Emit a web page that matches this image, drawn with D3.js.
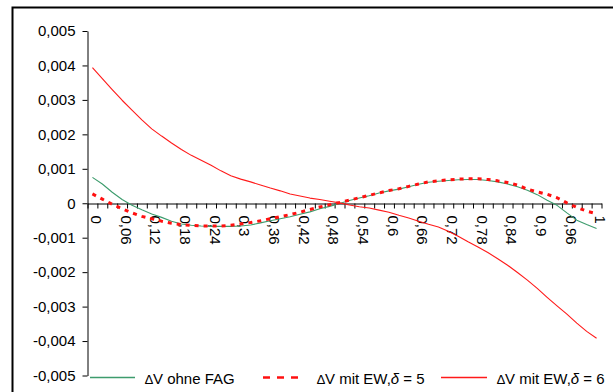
<!DOCTYPE html>
<html>
<head>
<meta charset="utf-8">
<script src="https://cdn.jsdelivr.net/npm/d3@7/dist/d3.min.js"></script>
<style>
  html, body { margin: 0; padding: 0; background: #fff; }
  svg { display: block; font-family: "Liberation Sans", Arial, sans-serif; }
</style>
</head>
<body>
<svg id="chart" width="613" height="392"></svg>
<script>
// Category labels along the x axis (52 positions, every third one is shown)
const categories = [
  "0","0,02","0,04","0,06","0,08","0,1","0,12","0,14","0,16","0,18",
  "0,2","0,22","0,24","0,26","0,28","0,3","0,32","0,34","0,36","0,38",
  "0,4","0,42","0,44","0,46","0,48","0,5","0,52","0,54","0,56","0,58",
  "0,6","0,62","0,64","0,66","0,68","0,7","0,72","0,74","0,76","0,78",
  "0,8","0,82","0,84","0,86","0,88","0,9","0,92","0,94","0,96","0,98",
  "0,99","1"
];

// ΔV ohne FAG
const dvOhneFag = [
  0.00075, 0.00056, 0.00032, 0.00011, -0.00006, -0.00019, -0.00031, -0.00041, -0.00052, -0.00060,
  -0.00064, -0.00066, -0.00067, -0.00067, -0.00067, -0.00066, -0.00063, -0.00057, -0.00051, -0.00045,
  -0.00039, -0.00032, -0.00025, -0.00016, -0.00009, -0.00001, 0.00008, 0.00015, 0.00022, 0.00030,
  0.00036, 0.00041, 0.00048, 0.00055, 0.00061, 0.00064, 0.00066, 0.00068, 0.00069, 0.00069,
  0.00066, 0.00062, 0.00056, 0.00048, 0.00038, 0.00025, 0.00009, -0.00006, -0.00028, -0.00049,
  -0.00062, -0.00073
];

// ΔV mit EW, δ = 5
const dvEwD5 = [
  0.00027, 0.00012, -0.00003, -0.00016, -0.00028, -0.00038, -0.00045, -0.00052, -0.00058, -0.00062,
  -0.00064, -0.00066, -0.00066, -0.00066, -0.00064, -0.00060, -0.00056, -0.00051, -0.00045, -0.00039,
  -0.00033, -0.00026, -0.00018, -0.00011, -0.00004, 0.00002, 0.00009, 0.00016, 0.00023, 0.00030,
  0.00037, 0.00042, 0.00049, 0.00056, 0.00062, 0.00065, 0.00068, 0.00070, 0.00071, 0.00071,
  0.00069, 0.00065, 0.00060, 0.00053, 0.00041, 0.00033, 0.00026, 0.00016, 0.00001, -0.00012,
  -0.00023, -0.00030
];

// ΔV mit EW, δ = 6
const dvEwD6 = [
  0.00394, 0.00362, 0.00330, 0.00299, 0.00270, 0.00242, 0.00216, 0.00195, 0.00175, 0.00156,
  0.00139, 0.00125, 0.00110, 0.00094, 0.00080, 0.00070, 0.00062, 0.00053, 0.00044, 0.00036,
  0.00027, 0.00021, 0.00015, 0.00011, 0.00006, 0.00001, -0.00005, -0.00010, -0.00014, -0.00020,
  -0.00026, -0.00035, -0.00043, -0.00052, -0.00061, -0.00069, -0.00081, -0.00096, -0.00112, -0.00127,
  -0.00143, -0.00161, -0.00180, -0.00201, -0.00223, -0.00247, -0.00273, -0.00298, -0.00322, -0.00348,
  -0.00372, -0.00392
];

// y-axis tick values
const yTicks = [0.005, 0.004, 0.003, 0.002, 0.001, 0, -0.001, -0.002, -0.003, -0.004, -0.005];

const series = [
  { name: "ohne FAG", values: dvOhneFag, color: "#3d9c6d", width: 1.1, dash: null },
  { name: "mit EW,", delta: "5", values: dvEwD5, color: "#ff1010", width: 3, dash: "4,5" },
  { name: "mit EW,", delta: "6", values: dvEwD6, color: "#ff1a1a", width: 1.1, dash: null }
];

const svg = d3.select("#chart");
const font = "Liberation Sans, Arial, sans-serif";

// outer chart frame
svg.append("rect")
  .attr("x", 12.5).attr("y", 7.5)
  .attr("width", 640).attr("height", 420)
  .attr("fill", "#fff")
  .attr("stroke", "#000").attr("stroke-width", 2);

const plotLeft = 87.5, plotRight = 601.5, plotTop = 31, plotBottom = 375.5;

const idx = d3.range(categories.length);
const xBand = d3.scaleBand().domain(idx).range([plotLeft, plotRight]).padding(0);
const xEdge = d3.scaleLinear().domain([0, categories.length]).range([plotLeft, plotRight]);
const y = d3.scaleLinear().domain([-0.005, 0.005]).range([plotBottom, plotTop]);

const loc = d3.formatLocale({ decimal: ",", thousands: ".", grouping: [3], currency: ["", "€"], minus: "-" });
const f3 = loc.format(".3f");

// y axis
const yAxis = svg.append("g")
  .attr("transform", `translate(${plotLeft},0)`)
  .call(d3.axisLeft(y).tickValues(yTicks).tickSize(5).tickSizeOuter(0).tickPadding(7)
    .tickFormat(v => v === 0 ? "0" : f3(v)));
yAxis.selectAll("path, line").attr("stroke", "#000").attr("stroke-width", 1);
yAxis.selectAll("text").attr("font-size", 15).attr("font-family", font).attr("fill", "#000");

// x axis: tick marks between categories
const y0 = Math.round(y(0)) + 0.5;
const xTicks = svg.append("g")
  .attr("transform", `translate(0,${y0})`)
  .call(d3.axisBottom(xEdge).tickValues(d3.range(categories.length + 1))
    .tickSize(5).tickSizeOuter(0).tickFormat(""));
xTicks.selectAll("path, line").attr("stroke", "#000").attr("stroke-width", 1);

// x axis: rotated category labels
const xLabels = svg.append("g")
  .attr("transform", `translate(${xBand.bandwidth() / 2 - 1},${y0})`)
  .call(d3.axisBottom(xBand).tickValues(idx.filter(i => i % 3 === 0))
    .tickSize(0).tickFormat(i => categories[i]));
xLabels.select("path").remove();
xLabels.selectAll("text")
  .attr("font-size", 15).attr("font-family", font).attr("fill", "#000")
  .attr("x", 0).attr("y", 0).attr("dy", "0.35em")
  .attr("text-anchor", "start")
  .attr("transform", "translate(0,12) rotate(90)");

// series lines
const line = d3.line()
  .x((d, i) => xBand(i) + xBand.bandwidth() / 2)
  .y(d => y(d));

series.forEach(s => {
  svg.append("path")
    .datum(s.values)
    .attr("d", line)
    .attr("fill", "none")
    .attr("stroke", s.color)
    .attr("stroke-width", s.width)
    .attr("stroke-dasharray", s.dash)
    .attr("stroke-linejoin", "round");
});

// legend
const legendItems = [
  { s: series[0], x0: 90, x1: 135, tx: 145 },
  { s: series[1], x0: 263, x1: 299, tx: 317 },
  { s: series[2], x0: 441, x1: 487, tx: 497 }
];
const ly = 377.5;
legendItems.forEach(it => {
  svg.append("line")
    .attr("x1", it.x0).attr("x2", it.x1)
    .attr("y1", ly).attr("y2", ly)
    .attr("stroke", it.s.color)
    .attr("stroke-width", it.s.dash ? 2.5 : 1.6)
    .attr("stroke-dasharray", it.s.dash ? "7,7" : null);
  const t = svg.append("text")
    .attr("x", it.tx).attr("y", 384)
    .attr("font-size", 15).attr("font-family", font).attr("fill", "#000");
  t.append("tspan").attr("font-size", 13).text("\u2206");
  t.append("tspan").text("V " + it.s.name);
  if (it.s.delta) {
    t.append("tspan").attr("font-style", "italic").text("\u03b4");
    t.append("tspan").text(" = " + it.s.delta);
  }
});
</script>
</body>
</html>
